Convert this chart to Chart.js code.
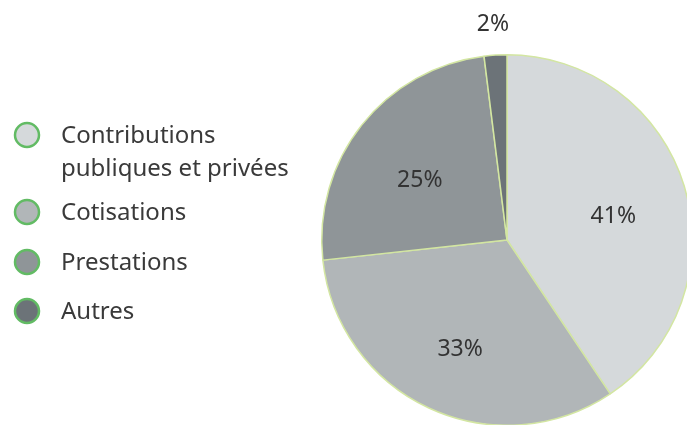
<!DOCTYPE html>
<html>
<head>
<meta charset="utf-8">
<script src="https://cdn.jsdelivr.net/npm/chart.js@4.4.0/dist/chart.umd.min.js"></script>
<style>
  html, body { margin: 0; padding: 0; background: #fff; overflow: hidden; width: 687px; height: 425px; }
  #wrap { position: absolute; left: 0; top: 0; width: 700px; height: 440px; }
</style>
</head>
<body>
<div id="wrap"><canvas id="pieChart" width="700" height="440"></canvas></div>
<script>
// Data
const categories = [['Contributions', 'publiques et privées'], ['Cotisations'], ['Prestations'], ['Autres']];
const shares = [41, 33, 25, 2];
const shareLabels = ['41%', '33%', '25%', '2%'];

// Colors
const colors = {
    slices: ['#d5d9db', '#b1b6b8', '#8f9598', '#6c7378'],
    sliceBorder: '#d3e6a2',
    legendBorder: '#62bb64',
    text: '#333333'
};
const font = "'Noto Sans', sans-serif";

// Percent labels on slices
const sliceLabels = {
    id: 'sliceLabels',
    afterDatasetsDraw(chart) {
        const ctx = chart.ctx;
        const meta = chart.getDatasetMeta(0);
        ctx.save();
        ctx.font = '23px ' + font;
        ctx.fillStyle = colors.text;
        ctx.textAlign = 'center';
        ctx.textBaseline = 'middle';
        meta.data.forEach((arc, i) => {
            const p = arc.getProps(['x', 'y', 'startAngle', 'endAngle', 'outerRadius'], true);
            const mid = (p.startAngle + p.endAngle) / 2;
            const small = (p.endAngle - p.startAngle) < 0.3;
            const r = small ? p.outerRadius + 40 : p.outerRadius * 0.6;
            ctx.fillText(shareLabels[i], p.x + Math.cos(mid) * r, p.y + Math.sin(mid) * r + 9);
        });
        ctx.restore();
    }
};

// Legend on the left side
const sideLegend = {
    id: 'sideLegend',
    afterDraw(chart) {
        const ctx = chart.ctx;
        const rows = [135, 212, 262, 311];
        ctx.save();
        ctx.font = '24px ' + font;
        ctx.textBaseline = 'alphabetic';
        categories.forEach((lines, i) => {
            ctx.beginPath();
            ctx.arc(27, rows[i], 12, 0, Math.PI * 2);
            ctx.fillStyle = colors.slices[i];
            ctx.fill();
            ctx.lineWidth = 2.5;
            ctx.strokeStyle = colors.legendBorder;
            ctx.stroke();
            ctx.fillStyle = '#3a3a3a';
            lines.forEach((t, j) => ctx.fillText(t, 61, rows[i] + 8 + j * 33));
        });
        ctx.restore();
    }
};

new Chart(document.getElementById('pieChart').getContext('2d'), {
    type: 'pie',
    data: {
        labels: categories.map(l => l.join(' ')),
        datasets: [{
            data: shares,
            backgroundColor: colors.slices,
            borderColor: colors.sliceBorder,
            borderWidth: 1.5
        }]
    },
    options: {
        responsive: false,
        animation: false,
        layout: { padding: { left: 321, top: 54, right: 7, bottom: 14 } },
        plugins: {
            legend: { display: false },
            tooltip: { enabled: false }
        }
    },
    plugins: [sliceLabels, sideLegend]
});
</script>
</body>
</html>
